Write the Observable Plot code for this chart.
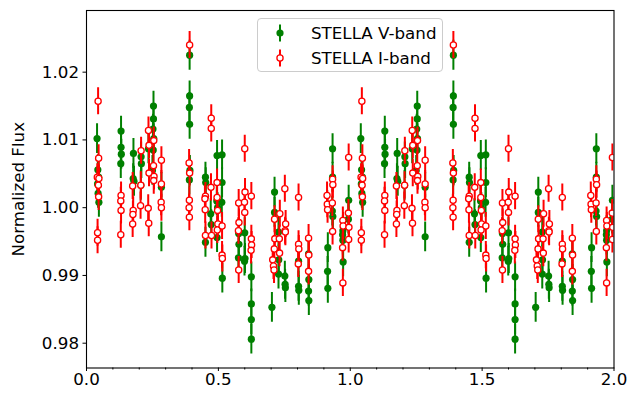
<!DOCTYPE html>
<html><head><meta charset="utf-8">
<script src="https://cdn.jsdelivr.net/npm/d3@7"></script>
<script src="https://cdn.jsdelivr.net/npm/@observablehq/plot@0.6"></script>
<style>
body{margin:0;background:#fff;}
#wrap{position:relative;width:629px;height:394px;font-family:"DejaVu Sans",sans-serif;}
#legend{position:absolute;left:257px;top:18px;width:186px;height:54px;border:1px solid #cccccc;border-radius:4px;background:rgba(255,255,255,0.8);box-sizing:border-box;font-size:16.7px;color:#000;}
#legend .row{position:absolute;left:0;height:24px;width:100%;}
#legend svg{position:absolute;left:12px;top:0;}
#legend span{position:absolute;left:53px;top:0px;line-height:22px;white-space:nowrap;}
</style></head>
<body><div id="wrap"><div id="chart"></div>
<div id="legend"></div></div>
<script>
// Phase-folded light curve (one cycle); the chart shows it over two cycles.
const phaseV = [0.040,0.043,0.046,0.042,0.044,0.047,0.131,0.131,0.132,0.130,0.178,0.177,0.180,0.207,0.208,0.206,0.235,0.254,0.254,0.252,0.255,0.253,0.250,0.284,0.284,0.391,0.391,0.390,0.391,0.392,0.390,0.451,0.452,0.451,0.473,0.471,0.495,0.494,0.497,0.495,0.514,0.514,0.513,0.515,0.577,0.578,0.576,0.600,0.601,0.599,0.625,0.625,0.625,0.625,0.713,0.713,0.703,0.728,0.729,0.728,0.752,0.753,0.754,0.804,0.804,0.805,0.842,0.843,0.842,0.843,0.915,0.914,0.915,0.933,0.933,0.932,0.934,0.972,0.971,0.972,0.973,0.994,0.993];
const fluxV = [1.0102,1.0056,1.0045,1.0035,1.0021,1.0008,1.0113,1.0089,1.0079,1.0065,1.0080,1.0043,1.0039,1.0075,1.0065,1.0033,1.0087,1.0150,1.0131,1.0116,1.0102,1.0085,1.0055,1.0030,0.9957,1.0225,1.0165,1.0148,1.0123,1.0055,1.0041,1.0045,1.0037,0.9949,0.9975,0.9991,1.0077,1.0010,1.0000,0.9956,1.0078,1.0037,1.0008,0.9896,0.9962,0.9946,0.9926,0.9963,0.9925,0.9921,0.9898,0.9858,0.9835,0.9806,1.0023,0.9993,0.9853,0.9964,0.9923,0.9902,0.9899,0.9887,0.9882,0.9921,0.9884,0.9878,0.9932,0.9894,0.9877,0.9863,0.9941,0.9906,0.9881,1.0087,1.0045,0.9995,0.9987,0.9966,0.9960,0.9952,0.9920,1.0011,0.9983];
const errV = 0.0022;

const phaseI = [0.044,0.046,0.041,0.047,0.045,0.046,0.042,0.042,0.131,0.130,0.131,0.130,0.175,0.177,0.176,0.175,0.207,0.206,0.205,0.235,0.237,0.237,0.234,0.236,0.255,0.254,0.256,0.255,0.284,0.284,0.283,0.284,0.391,0.389,0.391,0.390,0.389,0.390,0.451,0.449,0.450,0.451,0.473,0.473,0.472,0.474,0.495,0.495,0.497,0.498,0.496,0.514,0.514,0.515,0.577,0.578,0.576,0.577,0.600,0.601,0.599,0.600,0.625,0.625,0.626,0.624,0.713,0.714,0.712,0.706,0.709,0.711,0.733,0.731,0.732,0.752,0.753,0.755,0.754,0.804,0.804,0.805,0.803,0.842,0.843,0.842,0.912,0.913,0.914,0.933,0.934,0.932,0.933,0.972,0.973,0.971,0.972,0.994,0.993,0.995,0.994];
const fluxI = [1.0157,1.0073,1.0045,1.0043,1.0033,1.0016,0.9963,0.9952,1.0018,1.0010,0.9996,0.9960,1.0032,0.9996,0.9990,0.9976,1.0084,1.0033,1.0003,1.0114,1.0092,1.0051,0.9999,0.9977,1.0099,1.0062,1.0046,1.0040,1.0070,1.0035,1.0008,1.0000,1.0240,1.0066,1.0051,1.0011,1.0000,0.9986,1.0017,1.0013,0.9997,0.9959,1.0132,1.0117,1.0030,0.9959,1.0037,1.0015,0.9996,0.9976,0.9967,0.9973,0.9930,0.9925,1.0007,0.9978,0.9966,0.9908,1.0087,1.0023,1.0008,0.9993,1.0017,0.9954,0.9945,0.9937,0.9983,0.9954,0.9939,0.9923,0.9914,0.9908,0.9991,0.9954,0.9933,1.0028,0.9966,0.9976,0.9964,1.0015,0.9946,0.9939,0.9917,0.9955,0.9930,0.9906,1.0018,1.0005,0.9997,1.0042,1.0034,1.0007,0.9965,0.9981,0.9973,0.9941,0.9889,1.0074,0.9992,0.9971,0.9953];
const errI = 0.0020;

const cycles = [0, 1];
const xTicks = [0, 0.5, 1.0, 1.5, 2.0];
const xMinor = [0.1,0.2,0.3,0.4,0.6,0.7,0.8,0.9,1.1,1.2,1.3,1.4,1.6,1.7,1.8,1.9];
const yTicks = [0.98, 0.99, 1.00, 1.01, 1.02];
const seriesNames = ["STELLA V-band", "STELLA I-band"];
const yLabel = "Normalized Flux";

const vData = cycles.flatMap(c => phaseV.map((p, i) => ({phase: p + c, flux: fluxV[i], err: errV})));
const iData = cycles.flatMap(c => phaseI.map((p, i) => ({phase: p + c, flux: fluxI[i], err: errI})));

const green = "#008000", red = "#ff0000";

const chart = Plot.plot({
  width: 629, height: 394,
  marginLeft: 86, marginRight: 15.5, marginTop: 10, marginBottom: 26.5,
  style: {fontFamily: "DejaVu Sans, sans-serif", fontSize: "16.7px", color: "black", background: "white", overflow: "visible"},
  x: {domain: [0, 2]},
  y: {domain: [0.97634, 1.0291]},
  marks: [
    Plot.ruleX(vData, {x: "phase", y1: d => d.flux - d.err, y2: d => d.flux + d.err, stroke: green, strokeWidth: 2, clip: true}),
    Plot.dot(vData, {x: "phase", y: "flux", r: 3.6, fill: green, stroke: "none", clip: true}),
    Plot.ruleX(iData, {x: "phase", y1: d => d.flux - d.err, y2: d => d.flux + d.err, stroke: red, strokeWidth: 2, clip: true}),
    Plot.dot(iData, {x: "phase", y: "flux", r: 3.1, fill: "white", stroke: red, strokeWidth: 1.3, clip: true}),
    Plot.frame({stroke: "black", strokeWidth: 1.1}),
    Plot.axisX({ticks: xTicks, tickFormat: d3.format(".1f"), tickSize: 3.5, tickPadding: 2, label: null}),
    Plot.axisX({ticks: xMinor, tickFormat: () => "", tickSize: 2, label: null}),
    Plot.axisY({ticks: yTicks, tickFormat: d3.format(".2f"), tickSize: 3.5, tickPadding: 4, label: yLabel, labelAnchor: "center", labelArrow: "none", labelOffset: 74})
  ]
});
document.getElementById("chart").appendChild(chart);

// Legend
const legend = document.getElementById("legend");
const styles = [
  {stroke: green, fill: green},
  {stroke: red, fill: "white"}
];
seriesNames.forEach((name, i) => {
  const row = document.createElement("div");
  row.className = "row";
  row.style.top = (3 + i * 24.5) + "px";
  row.innerHTML = `<svg width="20" height="24"><line x1="10" x2="10" y1="2.5" y2="19.5" stroke="${styles[i].stroke}" stroke-width="2"/><circle cx="10" cy="11" r="${i ? 3.1 : 3.6}" fill="${styles[i].fill}" stroke="${i ? red : "none"}" stroke-width="1.3"/></svg><span>${name}</span>`;
  legend.appendChild(row);
});
</script>
</body></html>
